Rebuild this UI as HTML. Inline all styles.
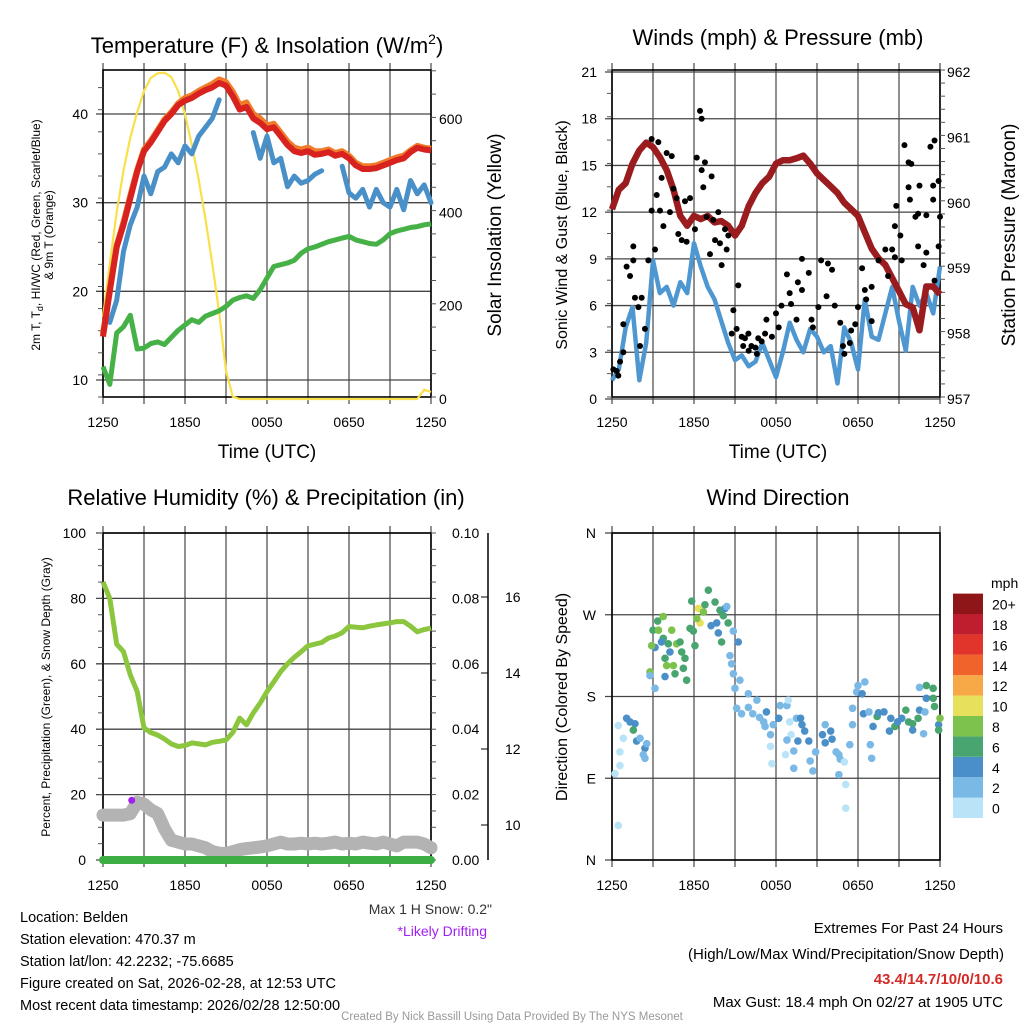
<!DOCTYPE html>
<html><head><meta charset="utf-8">
<style>
html,body{margin:0;padding:0;background:#fff;}
svg{display:block;font-family:"Liberation Sans",Arial,sans-serif;}
</style></head>
<body>
<svg id="chart" width="1024" height="1024" viewBox="0 0 1024 1024" xmlns="http://www.w3.org/2000/svg">
<rect width="1024" height="1024" fill="#fff"/>
<g id="layer"></g>
<!-- Titles -->
<text x="267" y="53" font-size="22" text-anchor="middle">Temperature (F) &amp; Insolation (W/m<tspan font-size="14" dy="-9">2</tspan><tspan dy="9">)</tspan></text>
<text x="778" y="45" font-size="22" text-anchor="middle">Winds (mph) &amp; Pressure (mb)</text>
<text x="266" y="505" font-size="22" text-anchor="middle">Relative Humidity (%) &amp; Precipitation (in)</text>
<text x="778" y="505" font-size="22" text-anchor="middle">Wind Direction</text>
<!-- axis titles -->
<text transform="translate(40,235) rotate(-90)" font-size="12" text-anchor="middle">2m T, T<tspan font-size="9" dy="3">d</tspan><tspan dy="-3">, HI/WC (Red, Green, Scarlet/Blue)</tspan></text>
<text transform="translate(53,235) rotate(-90)" font-size="12" text-anchor="middle">&amp; 9m T (Orange)</text>
<text transform="translate(501,235) rotate(-90)" font-size="19" text-anchor="middle">Solar Insolation (Yellow)</text>
<text x="267" y="458" font-size="19" text-anchor="middle">Time (UTC)</text>
<text transform="translate(567,235) rotate(-90)" font-size="16" text-anchor="middle">Sonic Wind &amp; Gust (Blue, Black)</text>
<text transform="translate(1015,235) rotate(-90)" font-size="19" text-anchor="middle">Station Pressure (Maroon)</text>
<text x="778" y="458" font-size="19" text-anchor="middle">Time (UTC)</text>
<text transform="translate(50,697) rotate(-90)" font-size="12" text-anchor="middle">Percent, Precipitation (Green), &amp; Snow Depth (Gray)</text>
<text transform="translate(567,697) rotate(-90)" font-size="16" text-anchor="middle">Direction (Colored By Speed)</text>
<!-- notes -->
<text x="492" y="914" font-size="14" fill="#333" text-anchor="end">Max 1 H Snow: 0.2"</text>
<text x="487" y="936" font-size="14" fill="#a020f0" text-anchor="end">*Likely Drifting</text>
<g font-size="14.5">
<text x="20" y="922">Location: Belden</text>
<text x="20" y="944">Station elevation: 470.37 m</text>
<text x="20" y="966">Station lat/lon: 42.2232; -75.6685</text>
<text x="20" y="988">Figure created on Sat, 2026-02-28, at 12:53 UTC</text>
<text x="20" y="1010">Most recent data timestamp: 2026/02/28 12:50:00</text>
</g>
<g font-size="15" text-anchor="end">
<text x="1003" y="933">Extremes For Past 24 Hours</text>
<text x="1004" y="959">(High/Low/Max Wind/Precipitation/Snow Depth)</text>
<text x="1003" y="984" fill="#d42a27" font-weight="bold">43.4/14.7/10/0/10.6</text>
<text x="1003" y="1007">Max Gust: 18.4 mph On 02/27 at 1905 UTC</text>
</g>
<text x="512" y="1020" font-size="11.5" fill="#999" text-anchor="middle">Created By Nick Bassill Using Data Provided By The NYS Mesonet</text>
</svg>
<script>
// ---------- DATA ----------
const xTickLabels = ["1250","1850","0050","0650","1250"];
const tempTicks = [10,20,30,40];
const solarTicks = [0,200,400,600];
const windTicks = [0,3,6,9,12,15,18,21];
const presTicks = [957,958,959,960,961,962];
const rhTicks = [0,20,40,60,80,100];
const precipTicks = ["0.00","0.02","0.04","0.06","0.08","0.10"];
const snowTicks = [10,12,14,16];
const dirTickLabels = ["N","E","S","W","N"];
const speedBins = ["0","2","4","6","8","10","12","14","16","18","20+"];
const speedColors = ["#b9e4f7","#7ab8e5","#4a8fc7","#48a570","#7cc24d","#e6e05a","#f7a948","#f0642c","#e1342a","#be1e2d","#8e1619"];

// half-hourly series (t = 0..24 h)
const tempRed = [14.9,20,25,27.5,30.5,33.5,35.8,36.8,38,39.2,40,41,41.5,41.8,42.3,42.7,43,43.5,43.2,42,40.5,40.8,39.5,39,38.3,38.5,37.5,36.5,35.8,35.6,35.8,35.4,35.5,35.7,35.3,35.5,35,34.2,33.8,33.8,33.9,34.2,34.5,34.8,35,35.7,36.2,36,35.9];
const temp9m = [15.2,20.3,25.2,27.8,30.8,33.7,36,37,38.2,39.4,40.2,41.2,41.8,42.1,42.6,43,43.4,43.9,43.6,42.5,41,41.3,40,39.5,38.7,38.9,37.9,36.9,36.2,36,36.2,35.8,35.8,36,35.6,35.8,35.3,34.5,34.1,34.1,34.2,34.5,34.8,35.1,35.3,35.9,36.4,36.2,36.1];
const dewPt = [11.5,9.5,15.3,16,17.3,13.5,13.6,14.1,14.3,14,14.8,15.6,16.2,16.8,16.5,17.2,17.5,17.8,18.3,19,19.3,19.5,19.2,20.2,21.5,22.8,23,23.2,23.5,24.3,24.8,25,25.3,25.6,25.8,26,26.2,25.8,25.6,25.4,25.3,25.8,26.5,26.8,27,27.2,27.3,27.5,27.6];
const windChill = [null,16.5,19,24.5,27.5,29.5,33,31,33.5,34,35.5,34.5,36.4,35.5,37.5,38.5,39.5,41.6,null,null,null,null,37.9,35,37.5,34.5,35,31.8,33,32.2,32.5,33.2,33.6,null,null,34.1,31.1,30.5,31.5,29.5,31.5,30,29.5,31.5,29.2,32.5,31,32,30];
const solar = [176,290,400,490,560,615,660,688,698,699,690,660,610,545,470,385,290,185,60,5,0,0,0,0,0,0,0,0,0,0,0,0,0,0,0,0,0,0,0,0,0,0,0,0,0,0,0,20,15];
const pressure = [959.9,960.2,960.3,960.6,960.8,960.92,960.85,960.7,960.5,960.2,959.8,959.65,959.8,959.75,959.8,959.7,959.72,959.65,959.5,959.65,959.95,960.15,960.3,960.4,960.6,960.65,960.65,960.68,960.72,960.6,960.45,960.35,960.25,960.15,960,959.9,959.8,959.55,959.3,959.15,959.05,958.85,958.65,958.45,958.4,958.05,958.72,958.72,958.6];
const sonic = [1.2,1.9,4.6,5.9,1.2,3.6,8.9,6.8,7.2,6,7.5,6.8,10,8.5,7.2,6.4,5,3.6,2.5,2.8,2.1,2.4,3.6,2.5,1.4,3,4.9,3.8,3,4.5,4,3,3.4,1,4.6,3.6,1.9,6.4,4,3.8,5.5,7.2,5,3.1,7.2,6,6.8,5.5,8.5];
const humidity = [85,80,66,63.7,56.6,51.5,40.4,39,38.2,37,35.5,34.7,35,35.8,35.5,35.2,36,36.3,36.7,39,43.4,41.3,45,48,51.5,54.5,57.6,60,62,63.7,65.5,66,66.5,67.9,68.5,69.5,71.4,71.2,71,71.5,71.9,72.2,72.5,72.9,72.9,71.5,69.8,70.5,70.9];
const snowDepth = [10.26,10.26,10.26,10.26,10.3,10.6,10.55,10.4,10.3,9.9,9.6,9.55,9.5,9.5,9.45,9.4,9.3,9.26,9.25,9.3,9.35,9.38,9.4,9.42,9.45,9.5,9.55,9.5,9.5,9.52,9.5,9.52,9.5,9.52,9.55,9.5,9.52,9.5,9.55,9.52,9.5,9.55,9.5,9.45,9.55,9.55,9.55,9.5,9.4];
const precip = [0,0,0,0,0,0,0,0,0,0,0,0,0,0,0,0,0,0,0,0,0,0,0,0,0];
const driftT = [2.1];
const driftSnow = [10.65];

// gusts (hour, mph)
const gustT = [0.1,0.34,0.59,0.46,0.83,0.83,1.07,1.32,1.56,1.56,1.68,1.93,2.17,2.05,2.41,2.66,2.9,3.15,3.27,2.9,3.39,3.51,3.63,3.76,4.0,4.37,4.24,4.49,4.73,4.85,5.1,5.34,5.46,5.71,6.07,6.2,6.44,6.56,6.56,6.8,6.68,7.29,6.93,7.17,7.41,7.54,7.78,7.9,8.02,8.27,8.39,8.51,8.88,9.24,8.76,9.12,9.49,9.73,9.98,10.2,10.5,10.7,10.95,11.3,11.7,12.0,12.4,12.8,13.1,13.5,13.6,13.9,13.9,14.4,14.7,15.1,15.3,15.7,15.8,16.1,16.3,16.7,16.9,17.0,17.5,17.8,18.0,18.3,18.6,19.0,19.0,19.5,20.0,20.2,20.7,20.8,21.1,21.2,21.4,21.7,21.7,21.9,21.8,22.2,22.4,22.5,22.4,22.8,23.0,23.3,23.6,23.5,23.5,23.9,24.0,23.0,23.6,23.9,20.7,20.5,18.5,17.4,14.6,13.0,12.2,11.2,9.6,10.0,10.6];
const gustV = [1.9,1.8,2.4,1.5,3.0,4.8,8.5,7.9,8.9,9.8,6.5,5.9,6.5,3.4,4.5,8.9,12.1,9.6,13.1,16.7,16.5,12.1,14.2,11.1,15.8,15.6,12.0,13.5,12.9,10.6,10.2,12.7,10.1,12.9,10.9,15.5,18.5,18.0,14.7,15.2,13.6,14.3,11.7,9.3,11.5,10.2,12.0,10.0,8.6,10.9,9.6,10.5,5.7,7.3,4.2,4.5,4.0,3.9,4.2,3.4,3.3,3.9,3.7,5.1,4.0,5.5,6.0,8.0,6.1,5.1,7.5,7.0,9.0,8.1,4.6,5.9,8.9,6.6,8.7,8.3,6.0,4.9,3.4,2.9,4.4,4.8,5.9,8.4,6.4,7.2,5.0,8.9,9.6,7.9,11.1,12.4,10.5,8.9,16.3,13.6,15.2,15.1,12.8,11.7,11.9,13.7,9.8,8.6,9.4,16.2,16.6,13.7,12.8,14.0,11.7,11.8,7.6,9.8,9.1,9.6,7.0,3.6,5.1,6.8,4.6,4.2,3.4,3.1,2.9];

// wind direction (hour, degrees, speed mph)
const dirT = [0.46,0.22,0.58,0.58,0.46,0.83,1.07,1.32,1.68,1.56,1.8,2.05,2.41,2.29,2.54,2.41,3.15,2.78,2.78,3.15,2.9,3.0,3.4,3.34,3.75,3.75,3.62,3.88,4.0,3.88,4.24,4.12,4.49,4.61,4.37,4.73,4.98,5.1,5.34,5.22,5.46,5.71,5.83,5.95,6.07,6.32,6.44,6.2,6.69,7.05,6.8,7.25,7.54,7.66,7.78,7.9,8.15,8.27,8.5,8.02,8.4,8.88,9.24,8.63,8.75,8.88,9.0,9.36,9.12,9.98,9.48,9.98,10.3,10.6,10.8,11.1,11.3,11.2,11.6,11.8,12.2,12.3,12.8,12.9,13.0,13.1,13.5,13.8,13.9,14.1,13.6,14.4,12.8,13.3,11.6,11.7,12.7,13.3,14.5,14.7,14.9,15.4,15.6,15.6,16.0,16.1,16.4,16.6,16.7,16.6,17.0,17.1,17.1,17.4,17.6,17.6,17.9,18.0,18.3,18.4,18.5,18.8,18.9,19.0,19.1,19.4,19.5,19.9,20.3,20.4,20.7,20.9,21.2,21.5,21.7,22.0,22.4,22.5,22.8,22.5,23.0,23.5,23.0,23.5,23.6,23.9,24.0,23.9,22.9,22.0];
const dirDeg = [38,95,104,119,148,134,156,152,150,143,131,134,123,116,128,112,189,207,203,234,236,253,253,263,268,244,240,222,214,202,229,238,214,205,253,238,240,229,222,211,198,255,285,252,236,277,261,266,273,297,281,258,284,261,250,275,269,277,261,240,279,252,240,225,216,205,189,198,167,183,161,168,161,176,157,152,163,147,138,149,156,170,170,176,152,138,156,156,149,142,131,131,132,120,125,106,116,101,109,98,119,138,129,149,142,133,119,116,111,94,108,83,57,127,149,167,185,192,183,161,196,163,127,112,147,158,162,163,142,156,147,152,156,165,152,150,156,165,139,190,192,189,178,178,169,149,156,143,163,143];
const dirSpd = [1,1,1,1,1,1,4,4,4,6,4,2,4,2,2,2,2,8,2,4,8,6,8,6,8,6,4,6,8,4,4,6,8,6,8,8,6,6,6,6,6,6,6,6,6,10,10,8,8,6,6,4,6,4,4,6,6,4,6,6,2,2,4,2,2,2,2,2,2,2,2,2,2,2,2,2,4,2,2,2,4,2,2,1,1,1,2,4,4,4,4,4,2,2,1,1,1,2,2,2,2,4,4,2,4,4,2,2,2,2,1,1,1,2,2,2,2,2,4,4,2,2,2,2,4,6,4,4,4,4,6,4,4,6,6,6,6,4,2,2,6,6,4,6,6,4,8,6,2,4];

// ---------- RENDER ----------
const NS = "http://www.w3.org/2000/svg";
const layer = document.getElementById('layer');
function mk(tag, attrs, parent) {
  const e = document.createElementNS(NS, tag);
  for (const k in attrs) e.setAttribute(k, attrs[k]);
  (parent || layer).appendChild(e);
  return e;
}
function txt(s, x, y, size, anchor, parent) {
  const t = mk('text', {x: x, y: y, 'font-size': size, 'text-anchor': anchor || 'middle'}, parent);
  t.textContent = s;
  return t;
}
function panel(x0, y0) {
  return {x0: x0, x1: x0 + 328, y0: y0, y1: y0 + 327,
    xs: function (t) { return x0 + t / 24 * 328; }};
}
function linScale(d0, d1, r0, r1) { return v => r0 + (v - d0) / (d1 - d0) * (r1 - r0); }
function pathFrom(vals, xs, ys) {
  let d = '', pen = false;
  const n = vals.length;
  for (let i = 0; i < n; i++) {
    const v = vals[i];
    if (v === null) { pen = false; continue; }
    const x = xs(i * 24 / (n - 1)), y = ys(v);
    d += (pen ? 'L' : 'M') + x.toFixed(1) + ' ' + y.toFixed(1);
    pen = true;
  }
  return d;
}
function grid(p, yVals, ys, name) {
  const g = mk('g', {});
  
  
  for (let h = 0; h <= 24; h += 3) {
    const x = p.xs(h);
    mk('line', {x1: x, x2: x, y1: p.y0 - 7, y2: p.y1 + 7, stroke: '#555', 'stroke-width': 1.3}, g);
  }
  yVals.forEach(v => {
    const y = ys(v);
    mk('line', {x1: p.x0 - 7, x2: p.x1, y1: y, y2: y, stroke: '#444', 'stroke-width': 1.3}, g);
  });
  mk('rect', {x: p.x0, y: p.y0, width: 328, height: 327, fill: 'none', stroke: '#000', 'stroke-width': 1.6}, g);
  xTickLabels.forEach((s, i) => {
    const l = txt(s, p.xs(i * 6), p.y1 + 30, 14, 'middle', g);
    
    
  });
}
function minorTicks(x, y0, y1, step, dir, g) {
  for (let y = y1; y >= y0 - 0.5; y -= step) mk('line', {x1: x, x2: x + dir * 5, y1: y, y2: y, stroke: '#555', 'stroke-width': 1}, g);
}

// Panel 1: temperature
const p1 = panel(103, 70);
const tY = linScale(10, 40, 380, 114);
const sY = linScale(0, 600, 399, 119);
grid(p1, tempTicks, tY, 'temperature');
const a1 = mk('g', {});


tempTicks.forEach(v => txt(String(v), 88, tY(v) + 5, 14, 'end', a1));
solarTicks.forEach(v => txt(String(v), 439, sY(v) + 5, 14, 'start', a1));
minorTicks(p1.x0, p1.y0, p1.y1, 22.1, -1, a1);
minorTicks(p1.x1, p1.y0, p1.y1, 23.3, 1, a1);

const solarLine = mk('path', {d: pathFrom(solar, p1.xs, sY), fill: 'none', stroke: '#f9e04b', 'stroke-width': 2.2});


const dewLine = mk('path', {d: pathFrom(dewPt, p1.xs, tY), fill: 'none', stroke: '#46b147', 'stroke-width': 5, 'stroke-linejoin': 'round'});


const wcLine = mk('path', {d: pathFrom(windChill, p1.xs, tY), fill: 'none', stroke: '#4a90c8', 'stroke-width': 5, 'stroke-linejoin': 'round', 'stroke-linecap': 'round'});


const t9Line = mk('path', {d: pathFrom(temp9m, p1.xs, tY), fill: 'none', stroke: '#f07b2a', 'stroke-width': 6, 'stroke-linejoin': 'round'});


const tLine = mk('path', {d: pathFrom(tempRed, p1.xs, tY), fill: 'none', stroke: '#d7221f', 'stroke-width': 6, 'stroke-linejoin': 'round'});



// Panel 2: winds
const p2 = panel(612, 70);
const wY = linScale(0, 21, 399, 72);
const pY = linScale(957, 962, 399, 72);
grid(p2, windTicks, wY, 'winds');
const a2 = mk('g', {});


windTicks.forEach(v => txt(String(v), 597, wY(v) + 5, 14, 'end', a2));
presTicks.forEach(v => txt(String(v), 947, pY(v) + 5, 14, 'start', a2));
minorTicks(p2.x0, p2.y0, p2.y1, 15.57 * 1.5, -1, a2);
minorTicks(p2.x1, p2.y0, p2.y1, 65.4 / 5, 1, a2);
const sonicLine = mk('path', {d: pathFrom(sonic, p2.xs, wY), fill: 'none', stroke: '#4f97d0', 'stroke-width': 4.5, 'stroke-linejoin': 'round'});


const presLine = mk('path', {d: pathFrom(pressure, p2.xs, pY), fill: 'none', stroke: '#9b1c1f', 'stroke-width': 6.5, 'stroke-linejoin': 'round'});


const gg = mk('g', {});


gustT.forEach((t, i) => {
  const c = mk('circle', {cx: p2.xs(t), cy: wY(gustV[i]), r: 3, fill: '#000'}, gg);
  
  
});

// Panel 3: humidity
const p3 = panel(103, 533);
const rY = linScale(0, 100, 860, 533);
const snY = linScale(10, 16, 825, 597);
grid(p3, rhTicks, rY, 'humidity');
const a3 = mk('g', {});


rhTicks.forEach(v => txt(String(v), 86, rY(v) + 5, 14, 'end', a3));
precipTicks.forEach((s, i) => txt(s, 452, rY(i * 20) + 5, 14, 'start', a3));
minorTicks(p3.x0, p3.y0, p3.y1, 16.35, -1, a3);
minorTicks(p3.x1, p3.y0, p3.y1, 16.35, 1, a3);
mk('line', {x1: 488, x2: 488, y1: 533, y2: 860, stroke: '#000', 'stroke-width': 1.5}, a3);
snowTicks.forEach(v => {
  mk('line', {x1: 488, x2: 481, y1: snY(v), y2: snY(v), stroke: '#000', 'stroke-width': 1}, a3);
  txt(String(v), 505, snY(v) + 5, 14, 'start', a3);
});
const snowLine = mk('path', {d: pathFrom(snowDepth, p3.xs, snY), fill: 'none', stroke: '#b3b3b3', 'stroke-width': 13, 'stroke-linejoin': 'round', 'stroke-linecap': 'round'});


const precipLine = mk('path', {d: pathFrom(precip, p3.xs, y => rY(y * 1000)), fill: 'none', stroke: '#3cae44', 'stroke-width': 8, 'stroke-linecap': 'round'});


const rhLine = mk('path', {d: pathFrom(humidity, p3.xs, rY), fill: 'none', stroke: '#8cc63f', 'stroke-width': 5, 'stroke-linejoin': 'round'});


driftT.forEach((t, i) => {
  const d = mk('circle', {cx: p3.xs(t), cy: snY(driftSnow[i]), r: 3.5, fill: '#a020f0'});
  
  
});

// Panel 4: wind direction
const p4 = panel(612, 533);
const dY = linScale(0, 360, 860, 533);
grid(p4, [0, 90, 180, 270, 360], dY, 'direction');
const a4 = mk('g', {});


dirTickLabels.forEach((s, i) => txt(s, 596, dY(i * 90) + 5, 14, 'end', a4));
const dg = mk('g', {});


dirT.forEach((t, i) => {
  const bin = Math.min(10, Math.floor(dirSpd[i] / 2));
  const c = mk('circle', {cx: p4.xs(t), cy: dY(dirDeg[i]), r: 3.8, fill: speedColors[bin]}, dg);
  
  
});

// Colorbar
const cb = mk('g', {});


txt('mph', 991, 588, 14, 'start', cb);
speedBins.forEach((s, i) => {
  const y = 818 - (i + 1) * 20.4;
  mk('rect', {x: 953, y: y, width: 30, height: 20.4, fill: speedColors[i]}, cb);
  txt(s, 992, y + 16, 14, 'start', cb);
});
</script>
</body></html>
